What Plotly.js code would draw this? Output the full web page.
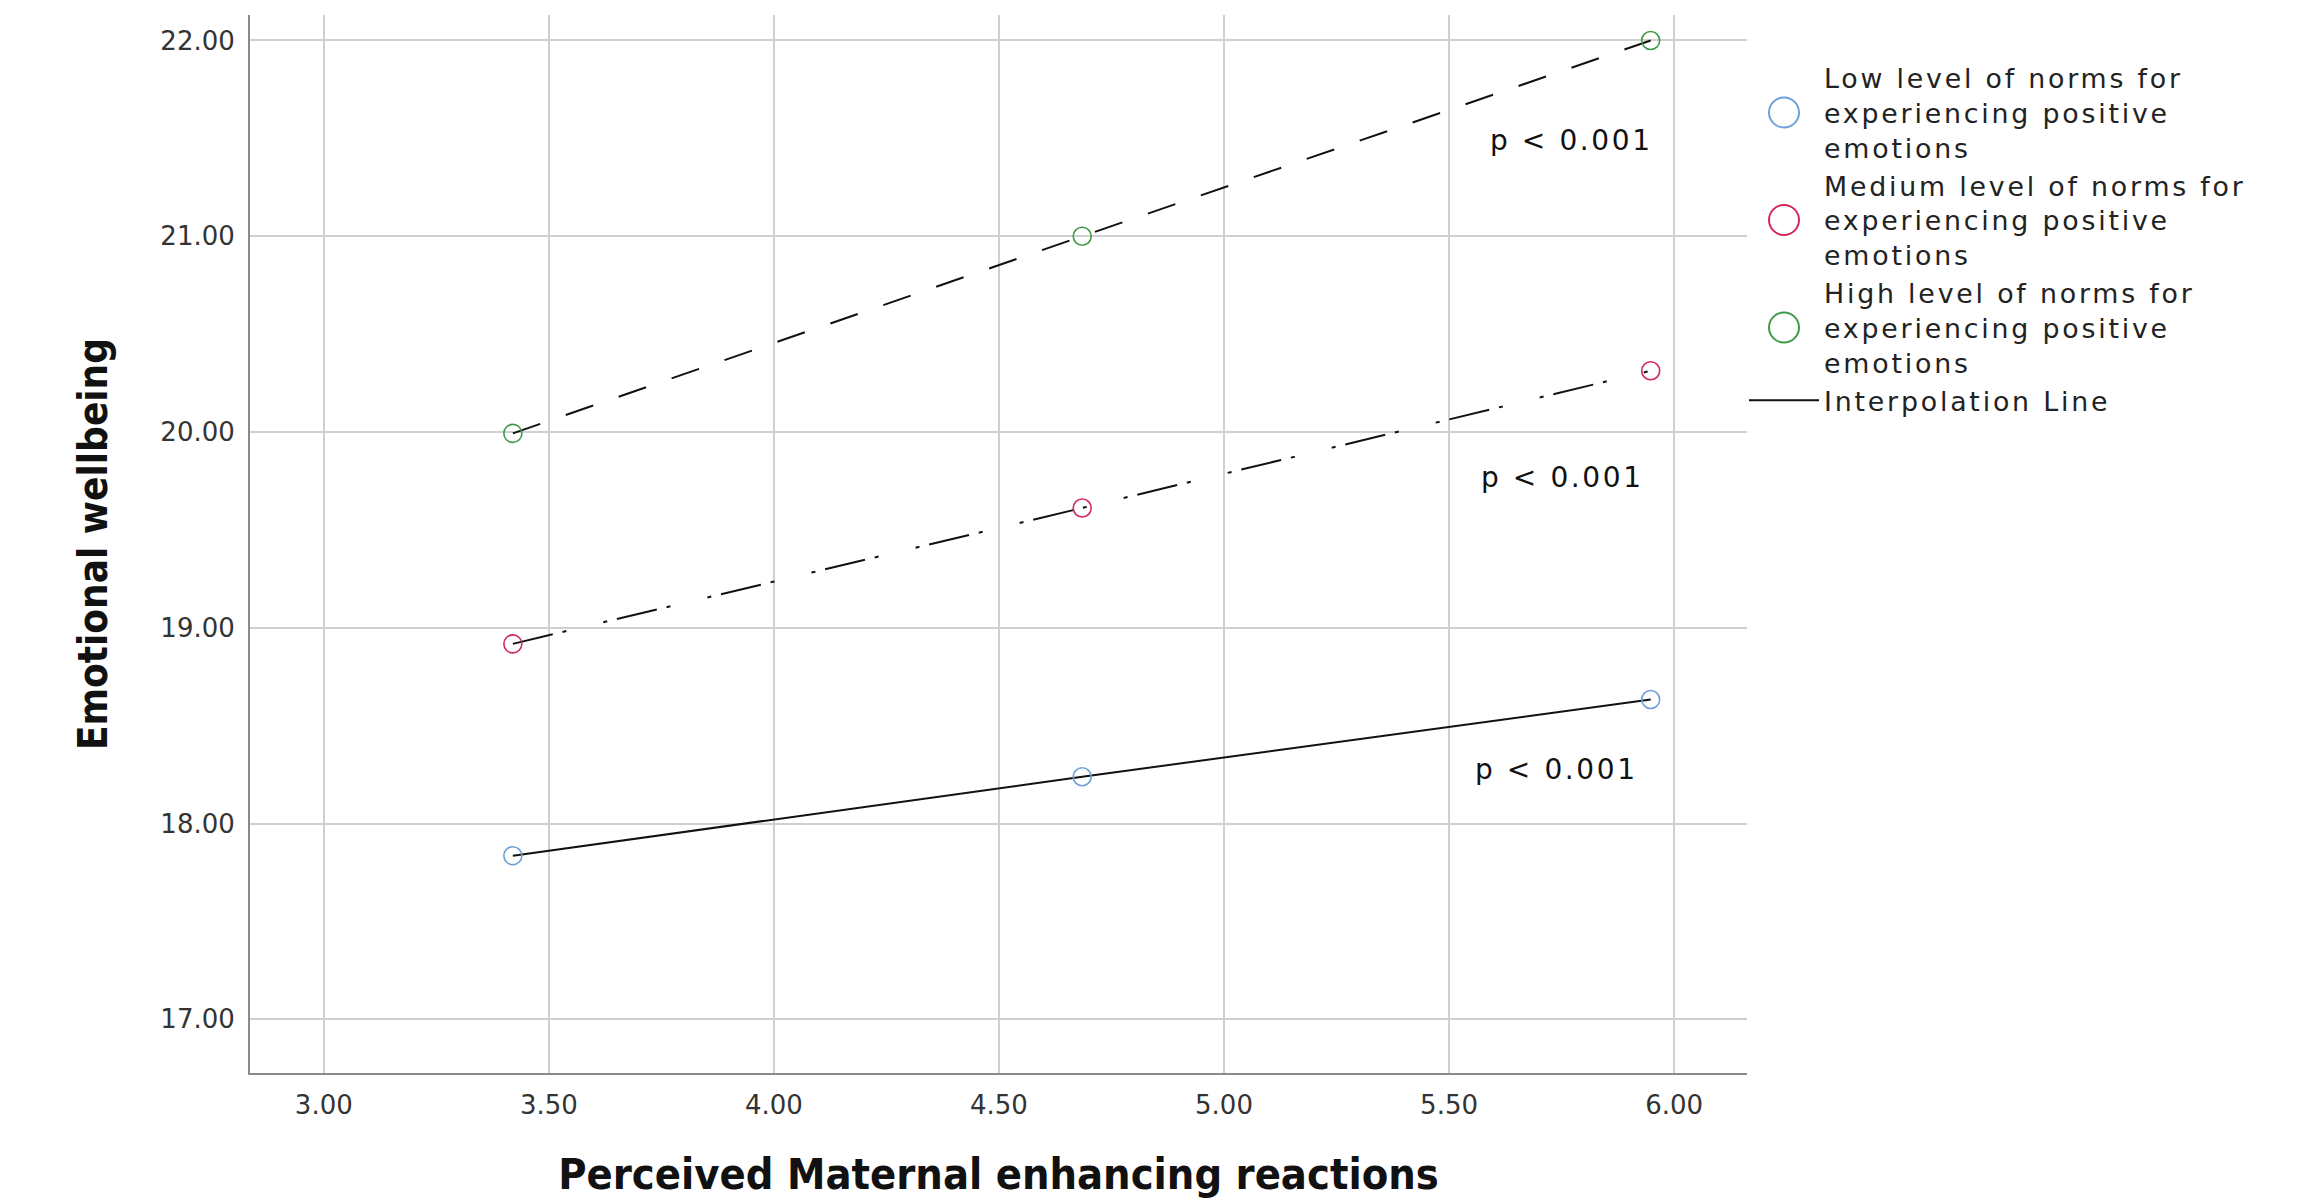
<!DOCTYPE html>
<html><head><meta charset="utf-8">
<script src="https://cdn.plot.ly/plotly-3.0.1.min.js"></script>
<style>
html,body{margin:0;padding:0;background:#fff}
.legendtext{letter-spacing:2.8px}
.annotation-text{letter-spacing:2.6px}
.legendpoints path.scatterpts{d:path("M15,0A15,15 0 1,1 0,-15A15,15 0 0,1 15,0Z");stroke-width:2px !important}
</style>
</head><body>
<div id="chart" style="width:2302px;height:1202px"></div>
<script>
// ---- data ----
const xValues = [3.42, 4.685, 5.948];
const lowValues = [17.836, 18.239, 18.634];
const mediumValues = [18.918, 19.612, 20.313];
const highValues = [19.993, 21.0, 22.0];
const seriesNames = [
  "Low level of norms for<br>experiencing positive<br>emotions",
  "Medium level of norms for<br>experiencing positive<br>emotions",
  "High level of norms for<br>experiencing positive<br>emotions"
];
const lineLegendName = "Interpolation Line";
const xTickVals = [3.0, 3.5, 4.0, 4.5, 5.0, 5.5, 6.0];
const yTickVals = [17, 18, 19, 20, 21, 22];
const pLabels = ["p < 0.001", "p < 0.001", "p < 0.001"];
const xTitle = "Perceived Maternal enhancing reactions";
const yTitle = "Emotional wellbeing";

// ---- styles ----
const seriesColors = ["#6f9fd8", "#d3285a", "#3f9a48"];
const lineDashes = ["solid", "41px,10px,4px,38px,4px,10px", "29px,27px"];
const seriesValues = [lowValues, mediumValues, highValues];
const pPos = [[5.738, 18.275], [5.753, 19.769], [5.771, 21.487]];

const traces = [];
// interpolation lines (drawn first, under markers)
seriesValues.forEach((vals, i) => {
  traces.push({
    x: xValues, y: vals, type: "scatter", mode: "lines",
    line: {color: "#111", width: 2, dash: lineDashes[i]},
    name: lineLegendName, showlegend: i === 0, legendrank: 4,
    hoverinfo: "skip"
  });
});
// markers
seriesValues.forEach((vals, i) => {
  traces.push({
    x: xValues, y: vals, type: "scatter", mode: "markers",
    marker: {symbol: "circle-open", size: 18, color: seriesColors[i], line: {width: 1.6, color: seriesColors[i]}},
    name: seriesNames[i], showlegend: true, legendrank: i + 1
  });
});

const annotations = pLabels.map((t, i) => ({
  x: pPos[i][0], y: pPos[i][1], xref: "x", yref: "y", text: t, showarrow: false,
  font: {family: "DejaVu Sans", size: 28, color: "#111"}
}));

const layout = {
  width: 2302, height: 1202,
  paper_bgcolor: "#fff", plot_bgcolor: "#fff",
  margin: {l: 250, r: 555, t: 15, b: 123},
  showlegend: true,
  legend: {
    x: 0.998, xanchor: "left", y: 0.9634, yanchor: "top",
    font: {family: "DejaVu Sans", size: 26.8, color: "#222"},
    itemwidth: 70, bgcolor: "rgba(0,0,0,0)", traceorder: "normal"
  },
  xaxis: {
    range: [2.836, 6.162], tickvals: xTickVals, ticktext: xTickVals.map(v => v.toFixed(2)),
    showgrid: true, gridcolor: "#d0d0d0", gridwidth: 2, zeroline: false,
    showline: true, linecolor: "#8a8a8a", linewidth: 2, ticks: "",
    tickfont: {family: "DejaVu Sans", size: 26, color: "#333"},
    ticklabelstandoff: 8,
    title: {text: xTitle, standoff: 40, font: {family: "DejaVu Sans Condensed, DejaVu Sans", size: 43, weight: "bold", color: "#111"}},
    automargin: true
  },
  yaxis: {
    range: [16.726, 22.13], tickvals: yTickVals, ticktext: yTickVals.map(v => v.toFixed(2)),
    showgrid: true, gridcolor: "#d0d0d0", gridwidth: 2, zeroline: false,
    showline: true, linecolor: "#8a8a8a", linewidth: 2, ticks: "",
    tickfont: {family: "DejaVu Sans", size: 26, color: "#333"},
    ticklabelstandoff: 8,
    title: {text: yTitle, standoff: 40, font: {family: "DejaVu Sans Condensed, DejaVu Sans", size: 40, weight: "bold", color: "#111"}},
    automargin: true
  },
  annotations: annotations
};

Plotly.newPlot("chart", traces, layout, {displayModeBar: false, staticPlot: true});
</script>
</body></html>
